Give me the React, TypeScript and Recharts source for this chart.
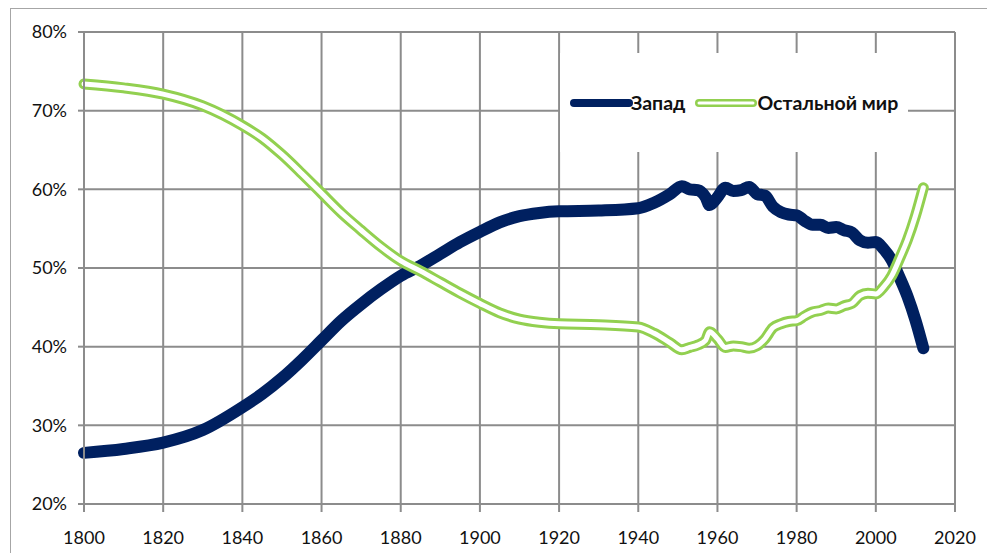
import { CartesianGrid, Line, LineChart, XAxis, YAxis } from "recharts";

const years = [
  1800, 1810, 1820, 1830, 1840, 1845, 1850, 1855, 1860, 1865, 1870, 1875, 1880, 1885, 1890, 1895, 1900,
  1905, 1910, 1915, 1920, 1930, 1940, 1944, 1948, 1951, 1953, 1955, 1957, 1958, 1960, 1962, 1964, 1966,
  1968, 1970, 1972, 1974, 1976, 1978, 1980, 1982, 1984, 1986, 1988, 1990, 1992, 1994, 1996, 1998, 2000,
  2002, 2004, 2006, 2008, 2010, 2012,
];

const west = [
  26.5, 27.0, 27.8, 29.4, 32.3, 34.0, 36.0, 38.3, 40.8, 43.3, 45.4, 47.3, 49.0, 50.3, 51.8, 53.3, 54.6,
  55.8, 56.6, 57.0, 57.2, 57.3, 57.6, 58.3, 59.4, 60.4, 60.0, 59.9, 59.0, 58.0, 59.0, 60.2, 59.8, 59.9,
  60.3, 59.4, 59.2, 57.8, 57.1, 56.8, 56.7, 56.0, 55.5, 55.5, 55.1, 55.2, 54.8, 54.5, 53.5, 53.2, 53.3,
  52.4, 51.0, 48.8, 46.4, 43.4, 39.8,
];

const rest = [
  73.4, 72.9, 72.1, 70.6, 68.1, 66.5, 64.4, 62.0, 59.5, 57.0, 54.8, 52.7, 50.9, 49.6, 48.2, 46.8, 45.5,
  44.3, 43.5, 43.1, 42.9, 42.8, 42.5, 41.7, 40.5, 39.6, 39.9, 40.2, 40.8, 41.9, 41.0, 39.9, 40.1, 40.0,
  39.8, 40.1, 41.0, 42.4, 42.9, 43.2, 43.3, 43.9, 44.4, 44.6, 44.9, 44.8, 45.2, 45.5, 46.5, 46.8, 46.7,
  47.6, 49.0, 51.2, 53.6, 56.6, 60.2,
];

const xTicks = [1800, 1820, 1840, 1860, 1880, 1900, 1920, 1940, 1960, 1980, 2000, 2020];
const yTicks = [20, 30, 40, 50, 60, 70, 80];

const seriesNames = { west: "Запад", rest: "Остальной мир" };

const data = years.map((year, i) => ({ year, west: west[i], rest: rest[i] }));

const NAVY = "#002060";
const GREEN = "#92d050";
const GRID = "#8c8c8c";
const FONT = "Lato, 'Open Sans', sans-serif";

function LegendBox() {
  return (
    <div
      style={{
        position: "absolute",
        left: 560,
        top: 53,
        width: 348,
        height: 99,
        background: "#fff",
        display: "flex",
        alignItems: "center",
        fontFamily: FONT,
        fontWeight: 700,
        fontSize: 19.5,
        color: "#111",
        whiteSpace: "nowrap",
      }}
    >
      <svg width={70} height={14} style={{ marginLeft: 9 }}>
        <line x1={5} y1={7} x2={60} y2={7} stroke={NAVY} strokeWidth={8} strokeLinecap="round" />
      </svg>
      <span style={{ marginLeft: -8 }}>{seriesNames.west}</span>
      <svg width={64} height={14} style={{ marginLeft: 10 }}>
        <line x1={4} y1={7} x2={58} y2={7} stroke={GREEN} strokeWidth={8} strokeLinecap="round" />
        <line x1={4} y1={7} x2={58} y2={7} stroke="#fff" strokeWidth={3} strokeLinecap="round" />
      </svg>
      <span style={{ marginLeft: -2 }}>{seriesNames.rest}</span>
    </div>
  );
}

export default function App() {
  return (
    <div
      style={{
        position: "absolute",
        left: 0,
        top: 0,
        width: 987,
        height: 553,
        background: "#fff",
        overflow: "hidden",
      }}
    >
      <div
        style={{
          position: "absolute",
          left: 10,
          top: 8,
          right: 0,
          bottom: 0,
          borderLeft: "1.5px solid #a6a6a6",
          borderTop: "1.5px solid #a6a6a6",
        }}
      />
      <LineChart
        width={987}
        height={553}
        data={data}
        margin={{ top: 32, right: 32, left: 14, bottom: 9 }}
        style={{ position: "absolute", left: 0, top: 0 }}
      >
        <CartesianGrid stroke={GRID} strokeWidth={2} />
        <XAxis
          dataKey="year"
          type="number"
          domain={[1800, 2020]}
          ticks={xTicks}
          height={40}
          tickSize={8}
          tickMargin={19}
          axisLine={{ stroke: GRID, strokeWidth: 2 }}
          tickLine={{ stroke: GRID, strokeWidth: 2 }}
          tick={{ fill: "#111", fontSize: 18, fontFamily: FONT }}
        />
        <YAxis
          type="number"
          domain={[20, 80]}
          ticks={yTicks}
          width={70}
          tickSize={6}
          tickMargin={11}
          tickFormatter={(v) => `${v}%`}
          axisLine={{ stroke: GRID, strokeWidth: 2 }}
          tickLine={{ stroke: GRID, strokeWidth: 2 }}
          tick={{ fill: "#111", fontSize: 18, fontFamily: FONT }}
        />
        <Line
          type="monotone"
          dataKey="west"
          name={seriesNames.west}
          stroke={NAVY}
          strokeWidth={12}
          strokeLinecap="round"
          strokeLinejoin="round"
          dot={false}
          activeDot={false}
          isAnimationActive={false}
        />
        <Line
          type="monotone"
          dataKey="rest"
          name={seriesNames.rest}
          stroke={GREEN}
          strokeWidth={11}
          strokeLinecap="round"
          strokeLinejoin="round"
          dot={false}
          activeDot={false}
          isAnimationActive={false}
        />
        <Line
          type="monotone"
          dataKey="rest"
          legendType="none"
          stroke="#fff"
          strokeWidth={5}
          strokeLinecap="round"
          strokeLinejoin="round"
          dot={false}
          activeDot={false}
          isAnimationActive={false}
        />
      </LineChart>
      <LegendBox />
    </div>
  );
}
